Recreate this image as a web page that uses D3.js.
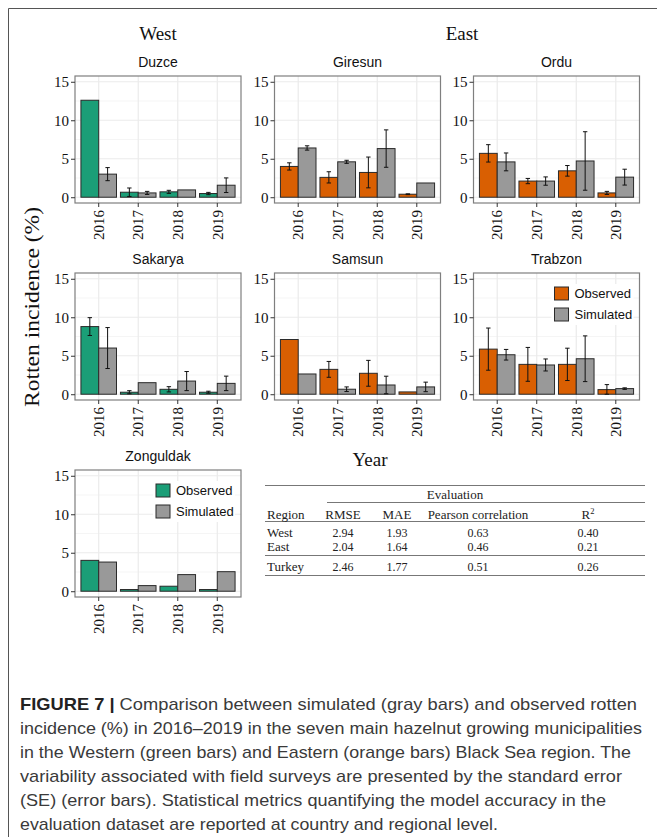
<!DOCTYPE html>
<html>
<head>
<meta charset="utf-8">
<script src="https://cdn.jsdelivr.net/npm/d3@7"></script>
<style>
  html, body { margin: 0; padding: 0; background: #fff; }
  svg { display: block; }
</style>
</head>
<body>
<svg id="chart" width="657" height="837"></svg>
<script>
// ---------------- DATA ----------------
const years = ["2016", "2017", "2018", "2019"];
const sites = ["Duzce", "Giresun", "Ordu", "Sakarya", "Samsun", "Trabzon", "Zonguldak"];
const siteRegion = ["West", "East", "East", "West", "East", "East", "West"];
const series = ["Observed", "Simulated"];
const yTicks = [0, 5, 10, 15];
const yMinorTicks = [2.5, 7.5, 12.5];

const observedMean = [
  [12.6, 0.65, 0.70, 0.48],
  [4.00, 2.58, 3.22, 0.39],
  [5.70, 2.10, 3.43, 0.56],
  [8.79, 0.26, 0.64, 0.26],
  [7.11, 3.23, 2.72, 0.30],
  [5.86, 3.88, 3.88, 0.60],
  [4.01, 0.22, 0.65, 0.22]
];
const observedSE = [
  [null, 0.55, 0.20, 0.15],
  [0.47, 0.73, 2.00, 0.05],
  [1.13, 0.34, 0.69, 0.20],
  [1.16, 0.20, 0.34, 0.13],
  [null, 1.03, 1.68, null],
  [2.74, 2.20, 2.10, 0.65],
  [null, null, null, null]
];
const simulatedMean = [
  [3.00, 0.56, 0.95, 1.56],
  [6.40, 4.60, 6.32, 1.85],
  [4.59, 2.10, 4.71, 2.61],
  [6.00, 1.50, 1.71, 1.41],
  [2.63, 0.65, 1.20, 0.95],
  [5.13, 3.80, 4.61, 0.73],
  [3.79, 0.73, 2.16, 2.54]
];
const simulatedSE = [
  [0.85, 0.20, null, 0.95],
  [0.28, 0.20, 2.43, null],
  [1.16, 0.54, 3.80, 1.03],
  [2.66, null, 1.24, 0.94],
  [null, 0.30, 1.14, 0.62],
  [0.69, 0.78, 2.97, 0.10],
  [null, null, null, null]
];

// evaluation table
const tableHeader = ["Region", "RMSE", "MAE", "Pearson correlation", "R²"];
const evalRegions = ["West", "East", "Turkey"];
const evalRMSE = ["2.94", "2.04", "2.46"];
const evalMAE = ["1.93", "1.64", "1.77"];
const evalPearson = ["0.63", "0.46", "0.51"];
const evalR2 = ["0.40", "0.21", "0.26"];

const captionLines = [
  "Comparison between simulated (gray bars) and observed rotten",
  "incidence (%) in 2016–2019 in the seven main hazelnut growing municipalities",
  "in the Western (green bars) and Eastern (orange bars) Black Sea region. The",
  "variability associated with field surveys are presented by the standard error",
  "(SE) (error bars). Statistical metrics quantifying the model accuracy in the",
  "evaluation dataset are reported at country and regional level."
];

// ---------------- STYLE / LAYOUT ----------------
const serif = "'Liberation Serif', 'Times New Roman', serif";
const sans = "'Liberation Sans', Arial, sans-serif";
const colObserved = { West: "#1B9E77", East: "#D95F02" };
const colSimulated = "#999999";

const panelW = 166, panelH = 127;
const colX = [75, 274.5, 473.5];
const rowY = [76, 273, 470];

const svg = d3.select("#chart");
svg.append("rect").attr("width", 657).attr("height", 837).attr("fill", "#fff");

// outer frame (left and top)
svg.append("path").attr("d", "M8.5,837 L8.5,8.5 L657,8.5")
  .attr("fill", "none").attr("stroke", "#555").attr("stroke-width", 1);

// region headers
svg.append("text").attr("x", 158).attr("y", 40).attr("text-anchor", "middle")
  .attr("font-family", serif).attr("font-size", 19).attr("fill", "#111").text("West");
svg.append("text").attr("x", 462).attr("y", 40).attr("text-anchor", "middle")
  .attr("font-family", serif).attr("font-size", 19).attr("fill", "#111").text("East");

// axis titles
svg.append("text").attr("transform", "translate(39,307) rotate(-90)")
  .attr("text-anchor", "middle").attr("font-family", serif).attr("font-size", 20)
  .attr("textLength", 200).attr("lengthAdjust", "spacingAndGlyphs")
  .attr("fill", "#111").text("Rotten incidence (%)");
svg.append("text").attr("x", 370).attr("y", 466).attr("text-anchor", "middle")
  .attr("font-family", serif).attr("font-size", 19).attr("fill", "#111").text("Year");

sites.forEach((site, si) => {
  const r = Math.floor(si / 3), c = si % 3;
  const x0 = colX[c], y0 = rowY[r];
  const g = svg.append("g");

  const x = d3.scaleBand().domain(years).range([x0, x0 + panelW])
    .paddingInner(0).paddingOuter(0.1);
  const step = x.step();
  const xs = d3.scaleBand().domain(series).range([-0.45 * step, 0.45 * step]);
  const y = d3.scaleLinear().domain([-0.75, 15.75]).range([y0 + panelH, y0]);

  // background & grid
  g.append("rect").attr("x", x0).attr("y", y0).attr("width", panelW).attr("height", panelH).attr("fill", "#fff");
  g.selectAll(".minor").data(yMinorTicks).join("line")
    .attr("x1", x0).attr("x2", x0 + panelW)
    .attr("y1", d => y(d)).attr("y2", d => y(d))
    .attr("stroke", "#f3f3f3").attr("stroke-width", 0.8);
  g.selectAll(".majorY").data(yTicks).join("line")
    .attr("x1", x0).attr("x2", x0 + panelW)
    .attr("y1", d => y(d)).attr("y2", d => y(d))
    .attr("stroke", "#ebebeb").attr("stroke-width", 1.2);
  g.selectAll(".majorX").data(years).join("line")
    .attr("x1", d => x(d) + step / 2).attr("x2", d => x(d) + step / 2)
    .attr("y1", y0).attr("y2", y0 + panelH)
    .attr("stroke", "#ebebeb").attr("stroke-width", 1.2);

  // bars
  const rows = [];
  years.forEach((yr, yi) => {
    rows.push({ yr, s: "Observed", v: observedMean[si][yi], se: observedSE[si][yi], fill: colObserved[siteRegion[si]] });
    rows.push({ yr, s: "Simulated", v: simulatedMean[si][yi], se: simulatedSE[si][yi], fill: colSimulated });
  });
  const cx = d => x(d.yr) + step / 2 + xs(d.s);
  g.selectAll(".bar").data(rows).join("rect")
    .attr("x", d => cx(d)).attr("width", xs.bandwidth())
    .attr("y", d => y(d.v)).attr("height", d => y(0) - y(d.v))
    .attr("fill", d => d.fill).attr("stroke", "#2a2a2a").attr("stroke-width", 1);

  // error bars
  const eb = rows.filter(d => d.se != null);
  const mid = d => cx(d) + xs.bandwidth() / 2;
  const capW = 2.2;
  g.selectAll(".err").data(eb).join("path")
    .attr("d", d => {
      const m = mid(d), t = y(d.v + d.se), b = y(Math.max(d.v - d.se, 0));
      return `M${m - capW},${t}H${m + capW}M${m},${t}V${b}M${m - capW},${b}H${m + capW}`;
    })
    .attr("fill", "none").attr("stroke", "#111").attr("stroke-width", 1);

  // panel border
  g.append("rect").attr("x", x0).attr("y", y0).attr("width", panelW).attr("height", panelH)
    .attr("fill", "none").attr("stroke", "#7f7f7f").attr("stroke-width", 1.2);

  // y axis
  const ya = g.append("g").attr("transform", `translate(${x0},0)`)
    .call(d3.axisLeft(y).tickValues(yTicks).tickSize(4).tickPadding(2));
  ya.select(".domain").remove();
  ya.selectAll("line").attr("stroke", "#333");
  ya.selectAll("text").attr("font-family", serif).attr("font-size", 15).attr("fill", "#111");

  // x axis
  const xa = g.append("g").attr("transform", `translate(0,${y0 + panelH})`)
    .call(d3.axisBottom(x).tickSize(4).tickPadding(3));
  xa.select(".domain").remove();
  xa.selectAll("line").attr("stroke", "#333");
  xa.selectAll("text").attr("font-family", serif).attr("font-size", 15).attr("fill", "#111")
    .attr("transform", "rotate(-90)").attr("text-anchor", "end")
    .attr("x", -7).attr("y", 0).attr("dy", "0.35em");

  // panel title
  g.append("text").attr("x", x0 + panelW / 2).attr("y", y0 - 9).attr("text-anchor", "middle")
    .attr("font-family", sans).attr("font-size", 14).attr("fill", "#111").text(site);

  // legends in Trabzon and Zonguldak
  if (site === "Trabzon" || site === "Zonguldak") {
    const lx = x0 + 81, ly = y0 + 14;
    const lg = g.append("g");
    lg.append("rect").attr("x", lx - 3).attr("y", ly - 3).attr("width", 82).attr("height", 41).attr("fill", "#fff");
    const keys = [
      { label: "Observed", fill: colObserved[siteRegion[si]] },
      { label: "Simulated", fill: colSimulated }
    ];
    keys.forEach((k, ki) => {
      lg.append("rect").attr("x", lx).attr("y", ly + ki * 21).attr("width", 14).attr("height", 13)
        .attr("fill", k.fill).attr("stroke", "#2a2a2a").attr("stroke-width", 1);
      lg.append("text").attr("x", lx + 20).attr("y", ly + ki * 21 + 11)
        .attr("font-family", sans).attr("font-size", 13).attr("fill", "#111").text(k.label);
    });
  }
});

// ---------------- TABLE ----------------
const tL = 265, tR = 645;
const tbl = svg.append("g");
const hline = (yy, xa = tL) => tbl.append("line").attr("x1", xa).attr("x2", tR)
  .attr("y1", yy).attr("y2", yy).attr("stroke", "#777").attr("stroke-width", 1);
hline(485.5); hline(502.5, 327); hline(521.5); hline(555.5); hline(575.5);

tbl.append("text").attr("x", 455).attr("y", 499).attr("text-anchor", "middle")
  .attr("font-family", serif).attr("font-size", 13).attr("fill", "#222").text("Evaluation");
const colCenters = [null, 343, 397, 478, 588];
tableHeader.forEach((h, i) => {
  const t = tbl.append("text").attr("y", 519).attr("font-family", serif).attr("font-size", 13).attr("fill", "#222");
  if (i === 0) t.attr("x", 267).text(h);
  else if (h === "R²") {
    t.attr("x", colCenters[i]).attr("text-anchor", "middle");
    t.append("tspan").text("R");
    t.append("tspan").attr("font-size", 8.5).attr("dy", -5).text("2");
  } else t.attr("x", colCenters[i]).attr("text-anchor", "middle").text(h);
});
const rowBase = [537, 551, 571];
evalRegions.forEach((rg, i) => {
  tbl.append("text").attr("x", 267).attr("y", rowBase[i]).attr("font-family", serif)
    .attr("font-size", 13).attr("fill", "#222").text(rg);
  [evalRMSE[i], evalMAE[i], evalPearson[i], evalR2[i]].forEach((v, j) => {
    tbl.append("text").attr("x", colCenters[j + 1]).attr("y", rowBase[i]).attr("text-anchor", "middle")
      .attr("font-family", serif).attr("font-size", 12).attr("fill", "#222").text(v);
  });
});

// ---------------- CAPTION ----------------
const capWidths = [617, 622, 611, 602, 586, 478];
captionLines.forEach((line, i) => {
  const t = svg.append("text").attr("x", 20).attr("y", 710 + i * 24)
    .attr("font-family", sans).attr("font-size", 17).attr("fill", "#3a3a3a")
    .attr("textLength", capWidths[i]).attr("lengthAdjust", "spacingAndGlyphs");
  if (i === 0) {
    t.append("tspan").attr("font-weight", "bold").attr("fill", "#222").text("FIGURE 7 | ");
    t.append("tspan").text(line);
  } else t.text(line);
});
</script>
</body>
</html>
